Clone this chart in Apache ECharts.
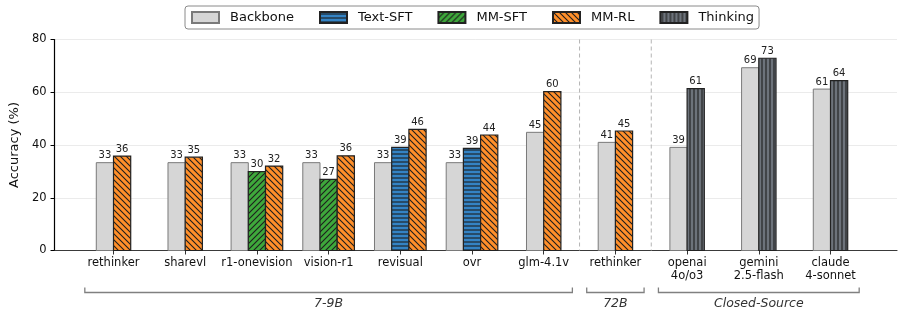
<!DOCTYPE html>
<html>
<head>
<meta charset="utf-8">
<script src="https://cdn.jsdelivr.net/npm/echarts@6/dist/echarts.min.js"></script>
<style>html,body{margin:0;padding:0;background:#fff}#c{width:905px;height:319px}</style>
</head>
<body>
<div id="c"></div>
<script>
// ---- data ----
const categories = ['rethinker','sharevl','r1-onevision','vision-r1','revisual','ovr','glm-4.1v','rethinker','openai\n4o/o3','gemini\n2.5-flash','claude\n4-sonnet'];
const seriesNames = ['Backbone','Text-SFT','MM-SFT','MM-RL','Thinking'];
const backbone = [33.3, 33.3, 33.3, 33.3, 33.3, 33.3, 44.8, 41.0, 39.1, 69.3, 61.2];
const textSFT  = [null, null, null, null, 39.1, 38.7, null, null, null, null, null];
const mmSFT    = [null, null, 29.9, 27.0, null, null, null, null, null, null, null];
const mmRL     = [35.8, 35.4, 32.0, 35.9, 45.9, 43.8, 60.2, 45.3, null, null, null];
const thinking = [null, null, null, null, null, null, null, null, 61.4, 72.9, 64.4];
const yTicks = [0, 20, 40, 60, 80];
const groupNames = ['7-9B', '72B', 'Closed-Source'];
const groupStart = [0, 7, 8];
const groupEnd = [6, 7, 10];
const separatorsAfter = [6, 7];

const FONT = 'DejaVu Sans';
const allSeries = [backbone, textSFT, mmSFT, mmRL, thinking];

function makePattern(bg, kind, size, lw) {
  const c = document.createElement('canvas');
  c.width = size; c.height = size;
  const g = c.getContext('2d');
  g.fillStyle = bg; g.fillRect(0, 0, size, size);
  g.strokeStyle = '#1e1e1e'; g.lineWidth = lw;
  g.beginPath();
  if (kind === 'fwd') { // '/'
    g.moveTo(-1, size + 1); g.lineTo(size + 1, -1);
    g.moveTo(-1, 1); g.lineTo(1, -1);
    g.moveTo(size - 1, size + 1); g.lineTo(size + 1, size - 1);
  } else if (kind === 'back') { // '\'
    g.moveTo(-1, -1); g.lineTo(size + 1, size + 1);
    g.moveTo(size - 1, -1); g.lineTo(size + 1, 1);
    g.moveTo(-1, size - 1); g.lineTo(1, size + 1);
  } else if (kind === 'h') {
    g.moveTo(0, size / 2); g.lineTo(size, size / 2);
  } else if (kind === 'v') {
    g.moveTo(size / 2, 0); g.lineTo(size / 2, size);
  }
  g.stroke();
  return { image: c, repeat: 'repeat' };
}

const styles = [
  { fill: '#d6d6d6', stroke: '#7a7a7a', lw: 1 },
  { fill: makePattern('#3483c4', 'h', 4, 1.1), stroke: '#222', lw: 1.2 },
  { fill: makePattern('#3ea83b', 'fwd', 6, 1.1), stroke: '#222', lw: 1.2 },
  { fill: makePattern('#ff8f2a', 'back', 6, 1.1), stroke: '#222', lw: 1.2 },
  { fill: makePattern('#6d737b', 'v', 4, 1.1), stroke: '#222', lw: 1.2 }
];

// slot / group size per category derived from data
function buildData(si) {
  const out = [];
  for (let ci = 0; ci < categories.length; ci++) {
    const v = allSeries[si][ci];
    if (v == null) continue;
    const present = [];
    for (let k = 0; k < allSeries.length; k++) if (allSeries[k][ci] != null) present.push(k);
    out.push([ci, v, present.indexOf(si), present.length]);
  }
  return out;
}

const barSeries = seriesNames.map((name, si) => ({
  name: name,
  type: 'custom',
  xAxisIndex: 1,
  yAxisIndex: 1,
  itemStyle: { color: styles[si].fill, borderColor: styles[si].stroke, borderWidth: styles[si].lw },
  data: buildData(si),
  z: 3,
  renderItem: function (params, api) {
    const ci = api.value(0), v = api.value(1), slot = api.value(2), n = api.value(3);
    const band = api.size([1, 0])[0];
    const w = band * 0.24;
    const top = api.coord([ci, v]);
    const base = api.coord([ci, 0]);
    const x = top[0] + (slot - (n - 1) / 2) * w - w / 2;
    return {
      type: 'group',
      children: [
        { type: 'rect', shape: { x: x, y: top[1], width: w, height: base[1] - top[1] },
          style: { fill: styles[si].fill, stroke: styles[si].stroke, lineWidth: styles[si].lw } },
        { type: 'text', style: { text: String(Math.round(v)), x: x + w / 2, y: top[1] - 2,
          align: 'center', verticalAlign: 'bottom', fontSize: 10, fontFamily: FONT, fill: '#222' } }
      ]
    };
  }
}));

const sepSeries = {
  type: 'custom', xAxisIndex: 1, yAxisIndex: 1, silent: true, z: 1,
  data: separatorsAfter.map(i => [i, i + 1]),
  renderItem: function (params, api) {
    const a = api.coord([api.value(0), 0]);
    const b = api.coord([api.value(1), 0]);
    const t = api.coord([api.value(0), 80]);
    const x = (a[0] + b[0]) / 2;
    return { type: 'line', shape: { x1: x, y1: t[1], x2: x, y2: a[1] },
      style: { stroke: '#b4b4b4', lineWidth: 1, lineDash: [4, 3] } };
  }
};

const bracketSeries = {
  type: 'custom', xAxisIndex: 1, yAxisIndex: 1, silent: true, clip: false,
  data: groupStart.map((s, i) => [s, groupEnd[i]]),
  renderItem: function (params, api) {
    const band = api.size([1, 0])[0];
    const a = api.coord([api.value(0), 0]);
    const b = api.coord([api.value(1), 0]);
    const x1 = a[0] - 0.4 * band, x2 = b[0] + 0.4 * band;
    const y = a[1] + 42;
    return {
      type: 'group',
      children: [
        { type: 'polyline', shape: { points: [[x1, y - 5], [x1, y], [x2, y], [x2, y - 5]] },
          style: { stroke: '#808080', lineWidth: 1.3, fill: null } },
        { type: 'text', style: { text: groupNames[params.dataIndex], x: (x1 + x2) / 2, y: y + 11,
          align: 'center', verticalAlign: 'middle', fontSize: 12.5, fontStyle: 'italic', fontFamily: FONT, fill: '#333' } }
      ]
    };
  }
};

const chart = echarts.init(document.getElementById('c'), null, { renderer: 'canvas' });
chart.setOption({
  animation: false,
  backgroundColor: '#fff',
  textStyle: { fontFamily: FONT },
  legend: {
    data: seriesNames,
    left: 185, top: 6,
    padding: [5, 5, 5, 6],
    itemWidth: 27, itemHeight: 11, itemGap: 25,
    icon: 'rect',
    borderColor: '#8a8a8a', borderWidth: 1, borderRadius: 3,
    textStyle: { fontSize: 13, fontFamily: FONT, color: '#111', padding: [0, 0, 0, 6] }
  },
  grid: [
    { left: 47, right: 8, top: 39.5, bottom: 68.5 },
    { left: 77.65, width: 788.7, top: 39.5, bottom: 68.5 }
  ],
  xAxis: [
    { gridIndex: 0, type: 'value', min: -0.927, max: 10.927,
      axisLine: { show: true, onZero: false, lineStyle: { color: '#3a3a3a', width: 1.2 } },
      axisTick: { show: false }, axisLabel: { show: false }, splitLine: { show: false } },
    { gridIndex: 1, type: 'category', data: categories,
      axisLine: { show: false },
      axisTick: { show: true, alignWithLabel: true, length: 4, lineStyle: { color: '#333' } },
      axisLabel: { fontSize: 11.5, fontFamily: FONT, color: '#111', margin: 6, lineHeight: 13, interval: 0 },
      splitLine: { show: false } }
  ],
  yAxis: [
    { gridIndex: 0, type: 'value', min: yTicks[0], max: yTicks[yTicks.length - 1], interval: 20,
      name: 'Accuracy (%)', nameLocation: 'middle', nameGap: 27,
      nameTextStyle: { fontSize: 13, fontFamily: FONT, color: '#111' },
      axisLine: { show: true, onZero: false, lineStyle: { color: '#000', width: 1.2 } },
      axisTick: { show: true, length: 4, lineStyle: { color: '#000' } },
      axisLabel: { fontSize: 11.5, fontFamily: FONT, color: '#111', margin: 8 },
      splitLine: { show: true, lineStyle: { color: '#ebebeb', width: 1 } } },
    { gridIndex: 1, type: 'value', min: 0, max: 80, show: false, splitLine: { show: false } }
  ],
  series: [sepSeries].concat(barSeries).concat([bracketSeries])
});
</script>
</body>
</html>
